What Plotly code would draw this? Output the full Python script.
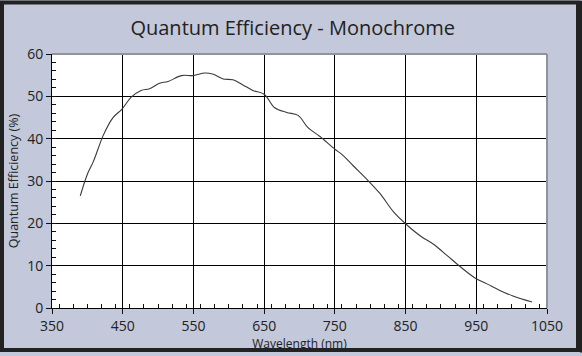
import plotly.graph_objects as go

wavelength_nm = [390, 396, 401, 408, 415, 422, 436, 449, 462, 476, 488, 502, 514, 533, 550,
                 566, 578, 592, 606, 620, 634, 650, 665, 682, 698, 712, 729, 750, 760, 776,
                 797, 814, 833, 850, 871, 890, 908, 927, 950, 965, 984, 1001, 1029]
qe_percent = [26.5, 29.7, 32.0, 34.4, 37.5, 40.6, 44.9, 47.0, 49.8, 51.4, 51.8, 53.1, 53.5, 54.9, 54.9,
              55.5, 55.2, 54.1, 53.9, 52.7, 51.4, 50.5, 47.3, 46.2, 45.5, 42.6, 40.5, 37.5, 36.3, 33.6,
              30.1, 27.0, 22.7, 19.9, 17.0, 15.0, 12.5, 9.8, 6.9, 5.7, 4.1, 2.9, 1.4]
x_ticks = [350, 450, 550, 650, 750, 850, 950, 1050]
y_ticks = [0, 10, 20, 30, 40, 50, 60]

title_text = "Quantum Efficiency - Monochrome"
x_title = "Wavelength (nm)"
y_title = "Quantum Efficiency (%)"

FONT = "Open Sans, Noto Sans, sans-serif"
W, H = 582, 356
ML, MR, MT, MB = 52, 35, 54, 45
PW, PH = W - ML - MR, H - MT - MB

def px_to_paper_x(px):
    return (px - ML) / PW

def px_to_paper_y(py):
    return (H - MB - py) / PH

fig = go.Figure()
fig.add_trace(go.Scatter(x=wavelength_nm, y=qe_percent, mode="lines",
                         line=dict(color="#3a3a3a", width=1.1), line_shape="spline",
                         hoverinfo="skip", showlegend=False))

axis_common = dict(showline=True, linecolor="#000", linewidth=1,
                   showgrid=True, gridcolor="#000", gridwidth=1,
                   ticks="outside", ticklen=5, tickcolor="#111", tickwidth=1,
                   tickfont=dict(family=FONT, size=14, color="#222"),
                   zeroline=False, fixedrange=True)

fig.update_xaxes(range=[350, 1050], tickvals=x_ticks, ticktext=[str(v) for v in x_ticks],
                 title=dict(text=x_title, font=dict(family=FONT, size=12, color="#222"), standoff=1),
                 minor=dict(ticks="inside", dtick=20, ticklen=4, tickcolor="#111", showgrid=False),
                 **axis_common)
fig.update_yaxes(range=[0, 60], tickvals=y_ticks, ticktext=[str(v) for v in y_ticks],
                 title=dict(text=y_title, font=dict(family=FONT, size=12.5, color="#222"), standoff=5),
                 minor=dict(ticks="inside", dtick=2, ticklen=4, tickcolor="#111", showgrid=False),
                 **axis_common)

shapes = [
    # gray top and right plot border
    dict(type="line", xref="paper", yref="paper", x0=0, x1=1, y0=1, y1=1,
         line=dict(color="#8f949c", width=2), layer="above"),
    dict(type="line", xref="paper", yref="paper", x0=1, x1=1, y0=0, y1=1,
         line=dict(color="#8f949c", width=2), layer="above"),
    # outer dark frame
    dict(type="rect", xref="paper", yref="paper",
         x0=px_to_paper_x(2), x1=px_to_paper_x(W - 4), y0=px_to_paper_y(H - 2.5), y1=px_to_paper_y(2),
         line=dict(color="#222222", width=4), layer="above"),
    dict(type="line", xref="paper", yref="paper",
         x0=px_to_paper_x(W - 1), x1=px_to_paper_x(W - 1), y0=px_to_paper_y(H), y1=px_to_paper_y(0),
         line=dict(color="#222222", width=2), layer="above"),
]

fig.update_layout(
    width=W, height=H,
    margin=dict(l=ML, r=MR, t=MT, b=MB, pad=0),
    paper_bgcolor="#c3c8da", plot_bgcolor="#ffffff",
    title=dict(text=title_text, x=0.503, xanchor="center", y=1 - 28 / H, yanchor="middle",
               font=dict(family=FONT, size=20, color="#222")),
    shapes=shapes,
)

fig.write_html("out.html", config={"displayModeBar": False, "staticPlot": True},
               post_script="document.body.style.margin='0';document.body.style.padding='0';"
                           "document.documentElement.style.overflow='hidden';")
